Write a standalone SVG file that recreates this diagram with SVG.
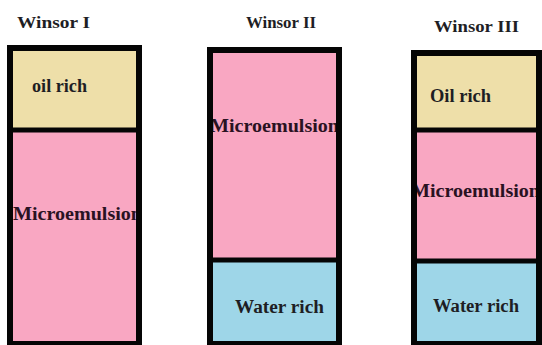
<svg xmlns="http://www.w3.org/2000/svg" width="542" height="345" viewBox="0 0 542 345">
<style>
text{font-family:"Liberation Serif","DejaVu Serif","Noto Serif",serif;font-weight:700;fill:#1e1e24}
.title{font-size:17px}
.lbl{font-size:18px}
.me{font-size:19px;fill:#2a1222}
.oil{fill:#EEDFA9}
.mic{fill:#F9A7C2}
.wat{fill:#9ED6E8}
.frame{fill:none;stroke:#050505;stroke-width:6}
.div{stroke:#050505;stroke-width:5}
</style>
<defs>
<clipPath id="c1"><rect x="13" y="51" width="123" height="294"/></clipPath>
<clipPath id="c2"><rect x="213" y="53" width="123" height="292"/></clipPath>
<clipPath id="c3"><rect x="417" y="56" width="119" height="289"/></clipPath>
</defs>
<rect width="542" height="345" fill="#fff"/>

<g id="winsor1">
<text class="title" x="17" y="28" textLength="73" lengthAdjust="spacingAndGlyphs">Winsor I</text>
<g id="w1-oil"><rect class="oil" x="13" y="51" width="123" height="79"/>
<text class="lbl" x="32" y="92" textLength="55" lengthAdjust="spacingAndGlyphs">oil rich</text></g>
<g id="w1-micro"><rect class="mic" x="13" y="130" width="123" height="215"/>
<text class="me" x="13" y="220" clip-path="url(#c1)" textLength="129" lengthAdjust="spacingAndGlyphs">Microemulsion</text></g>
<line class="div" x1="10" y1="130" x2="139" y2="130"/>
<rect class="frame" x="10" y="48" width="129" height="296"/>
</g>

<g id="winsor2">
<text class="title" x="246" y="28" textLength="70" lengthAdjust="spacingAndGlyphs">Winsor II</text>
<g id="w2-micro"><rect class="mic" x="213" y="53" width="123" height="207"/>
<text class="me" x="210" y="132" clip-path="url(#c2)" textLength="129" lengthAdjust="spacingAndGlyphs">Microemulsion</text></g>
<g id="w2-water"><rect class="wat" x="213" y="260" width="123" height="85"/>
<text class="lbl" x="235" y="313" textLength="89" lengthAdjust="spacingAndGlyphs">Water rich</text></g>
<line class="div" x1="210" y1="260" x2="339" y2="260"/>
<rect class="frame" x="210" y="50" width="129" height="294"/>
</g>

<g id="winsor3">
<text class="title" x="434" y="32" textLength="85" lengthAdjust="spacingAndGlyphs">Winsor III</text>
<g id="w3-oil"><rect class="oil" x="417" y="56" width="119" height="74"/>
<text class="lbl" x="430" y="102" textLength="61" lengthAdjust="spacingAndGlyphs">Oil rich</text></g>
<g id="w3-micro"><rect class="mic" x="417" y="130" width="119" height="131"/>
<text class="me" x="411" y="197" clip-path="url(#c3)" textLength="129" lengthAdjust="spacingAndGlyphs">Microemulsion</text></g>
<g id="w3-water"><rect class="wat" x="417" y="261" width="119" height="84"/>
<text class="lbl" x="433" y="312" textLength="86" lengthAdjust="spacingAndGlyphs">Water rich</text></g>
<line class="div" x1="414" y1="130" x2="539" y2="130"/>
<line class="div" x1="414" y1="261" x2="539" y2="261"/>
<rect class="frame" x="414" y="53" width="125" height="291"/>
</g>

<g id="connectors"/>
</svg>
